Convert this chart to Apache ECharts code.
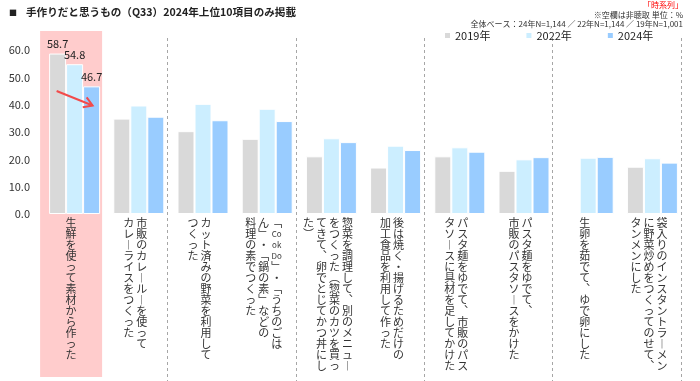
<!DOCTYPE html>
<html>
<head>
<meta charset="utf-8">
<script src="https://cdn.jsdelivr.net/npm/echarts@6/dist/echarts.min.js"></script>
<style>
html,body{margin:0;padding:0;background:#fff;}
#main{width:700px;height:381px;}
</style>
</head>
<body>
<div id="main"></div>
<script>
// ---- data ----
const categories = [
  "生鮮を使って素材から作った",
  "市販のカレールーを使って\nカレーライスをつくった",
  "カット済みの野菜を利用して\nつくった",
  "「CookDo」・「うちのごは\nん」・「鍋の素」などの\n料理の素でつくった",
  "惣菜を調理して、別のメニュー\nをつくった（惣菜のカツを買っ\nてきて、卵でとじてかつ丼にし\nた）",
  "後は焼く・揚げるためだけの\n加工食品を利用して作った",
  "パスタ麺をゆでて、市販のパス\nタソースに具材を足してかけた",
  "パスタ麺をゆでて、\n市販のパスタソースをかけた",
  "生卵を茹でて、ゆで卵にした",
  "袋入りのインスタントラーメン\nに野菜炒めをつくってのせて、\nタンメンにした"
];
const seriesNames = ["2019年", "2022年", "2024年"];
const v2019 = [58.7, 34.9, 30.3, 27.5, 21.1, 17.0, 21.1, 15.8, null, 17.3];
const v2022 = [54.8, 39.7, 40.3, 38.5, 27.7, 25.0, 24.4, 20.0, 20.6, 20.4];
const v2024 = [46.7, 35.6, 34.3, 34.0, 26.3, 23.4, 22.8, 20.8, 20.9, 18.8];
const highlight = [1, 0, 0, 0, 0, 0, 0, 0, 0, 0];
const yTicks = [0, 10, 20, 30, 40, 50, 60];
const arrowValues = [45.0, 39.7];
const titleText = "手作りだと思うもの（Q33）2024年上位10項目のみ掲載";
const noteLines = ["「時系列」", "※空欄は非聴取 単位：%", "全体ベース：24年N=1,144 ／ 22年N=1,144 ／ 19年N=1,001"];

const FONT = '"Noto Sans CJK JP", "Noto Sans", sans-serif';
const colors = ["#d9d9d9", "#cceeff", "#99ccff"];

// vertical (tategaki) label builder
const VMAP = {'ー':'︱','、':'︑','「':'﹁','」':'﹂','（':'︵','）':'︶'};
function tokensOf(col){
  const out = []; let i = 0;
  while (i < col.length) {
    const ch = col[i];
    if (/[A-Za-z0-9]/.test(ch)) {
      let s = ch;
      if (i + 1 < col.length && /[A-Za-z0-9]/.test(col[i+1])) { s += col[i+1]; i++; }
      out.push({t: s, latin: true});
    } else {
      out.push({t: VMAP[ch] || ch});
    }
    i++;
  }
  return out;
}
function verticalLabel(str){
  const cols = str.split('\n').map(tokensOf);
  const n = Math.max.apply(null, cols.map(c => c.length));
  const lines = [];
  for (let r = 0; r < n; r++) {
    let line = '';
    for (let c = cols.length - 1; c >= 0; c--) {
      const tk = cols[c][r];
      if (!tk) line += '{c|　}';
      else line += tk.latin ? '{l|' + tk.t + '}' : '{c|' + tk.t + '}';
    }
    lines.push(line);
  }
  return lines.join('\n');
}

const chart = echarts.init(document.getElementById('main'), null, {renderer: 'canvas'});

function mk(vals){
  return vals.map((v, i) => i === 0 ? {value: v, label: {show: true}} : v);
}

const barGrid = {left: 42.5, right: 15.5, top: 50, bottom: 167};
const labGrid = {left: 39, right: 19, top: 50, bottom: 167};
const pinkGrid = {left: 39, right: 19, top: 31, bottom: 4};
const divGrid = {left: 39, right: 19, top: 38, bottom: 0};

const option = {
  animation: false,
  textStyle: {fontFamily: FONT},
  title: [
    {text: '■', left: 9, top: 9, padding: 0, textStyle: {fontSize: 8, fontWeight: 'bold', color: '#222', fontFamily: FONT}},
    {text: titleText, left: 26, top: 7, padding: 0, textStyle: {fontSize: 10.6, fontWeight: 'bold', color: '#222', fontFamily: FONT}},
    {text: noteLines[0], right: 17, top: 1, padding: 0, textStyle: {fontSize: 8, fontWeight: 'normal', color: '#ff0000', fontFamily: FONT}},
    {text: noteLines[1], right: 17, top: 11, padding: 0, textStyle: {fontSize: 8, fontWeight: 'normal', color: '#333', fontFamily: FONT}},
    {text: noteLines[2], right: 17, top: 20, padding: 0, textStyle: {fontSize: 8, fontWeight: 'normal', color: '#333', fontFamily: FONT}}
  ],
  legend: {
    data: seriesNames,
    left: 445, top: 30, padding: 0,
    icon: 'rect', itemWidth: 5, itemHeight: 5, itemGap: 36,
    itemStyle: {borderWidth: 0},
    textStyle: {fontSize: 11, color: '#222', fontFamily: FONT}
  },
  grid: [barGrid, labGrid, pinkGrid, divGrid],
  xAxis: [
    {gridIndex: 0, type: 'category', data: categories, axisLine: {show: false}, axisTick: {show: false}, axisLabel: {show: false}, splitLine: {show: false}},
    {gridIndex: 1, type: 'category', data: categories, z: 10, axisLine: {show: false}, axisTick: {show: false}, splitLine: {show: false},
      axisLabel: {show: true, interval: 0, margin: 3, hideOverlap: false, color: '#333', formatter: v => verticalLabel(v),
        rich: {
          c: {width: 13, align: 'center', fontSize: 11, lineHeight: 11, color: '#333', fontFamily: FONT},
          l: {width: 13, align: 'center', fontSize: 8, lineHeight: 11, color: '#333', fontFamily: FONT}
        }}},
    {gridIndex: 2, type: 'category', data: categories, axisLine: {show: false}, axisTick: {show: false}, axisLabel: {show: false}, splitLine: {show: false}},
    {gridIndex: 3, type: 'category', data: categories, axisLine: {show: false}, axisTick: {show: false}, axisLabel: {show: false},
      splitLine: {show: true, interval: (i) => i > 0 && i % 2 === 0, lineStyle: {color: '#a6a6a6', width: 1, type: [3, 3]}}}
  ],
  yAxis: [
    {gridIndex: 0, type: 'value', min: yTicks[0], max: yTicks[yTicks.length-1], interval: yTicks[1]-yTicks[0],
      axisLine: {show: false}, axisTick: {show: false}, splitLine: {show: false},
      axisLabel: {margin: 12.5, fontSize: 11, color: '#333', fontFamily: FONT, formatter: v => v.toFixed(1)}},
    {gridIndex: 1, type: 'value', min: 0, max: 1, show: false},
    {gridIndex: 2, type: 'value', min: 0, max: 1, show: false},
    {gridIndex: 3, type: 'value', min: 0, max: 1, show: false}
  ],
  series: [
    {name: 'highlight', type: 'bar', xAxisIndex: 2, yAxisIndex: 2, data: highlight, barWidth: 62, silent: true, z: 0,
      itemStyle: {color: '#ffcccc'}},
    ...[v2019, v2022, v2024].map((vals, k) => ({
      name: seriesNames[k], type: 'bar', xAxisIndex: 0, yAxisIndex: 0, data: mk(vals),
      barWidth: 17, barGap: '0%', z: 3,
      itemStyle: {color: colors[k], borderColor: '#ffffff', borderWidth: 1},
      label: {show: false, position: 'top', distance: 4, fontSize: 11, color: '#222', fontFamily: FONT, formatter: p => p.value.toFixed(1)}
    }))
  ]
};
chart.setOption(option);

// arrow annotation derived from axis scale
const p1 = chart.convertToPixel({gridIndex: 0}, [0, arrowValues[0]]);
const p2 = chart.convertToPixel({gridIndex: 0}, [0, arrowValues[1]]);
const sx = p1[0] - 18, sy = p1[1];
const ex = p2[0] + 18, ey = p2[1];
const ang = Math.atan2(ey - sy, ex - sx);
const hl = 10, ha = 0.55;
const h1 = [ex - hl * Math.cos(ang - ha), ey - hl * Math.sin(ang - ha)];
const h2 = [ex - hl * Math.cos(ang + ha), ey - hl * Math.sin(ang + ha)];
chart.setOption({
  graphic: [
    {type: 'line', z: 100, shape: {x1: sx, y1: sy, x2: ex, y2: ey}, style: {stroke: '#f24b4b', lineWidth: 2}},
    {type: 'polyline', z: 100, shape: {points: [h1, [ex, ey], h2]}, style: {stroke: '#f24b4b', lineWidth: 2, fill: null}}
  ]
});
</script>
</body>
</html>
